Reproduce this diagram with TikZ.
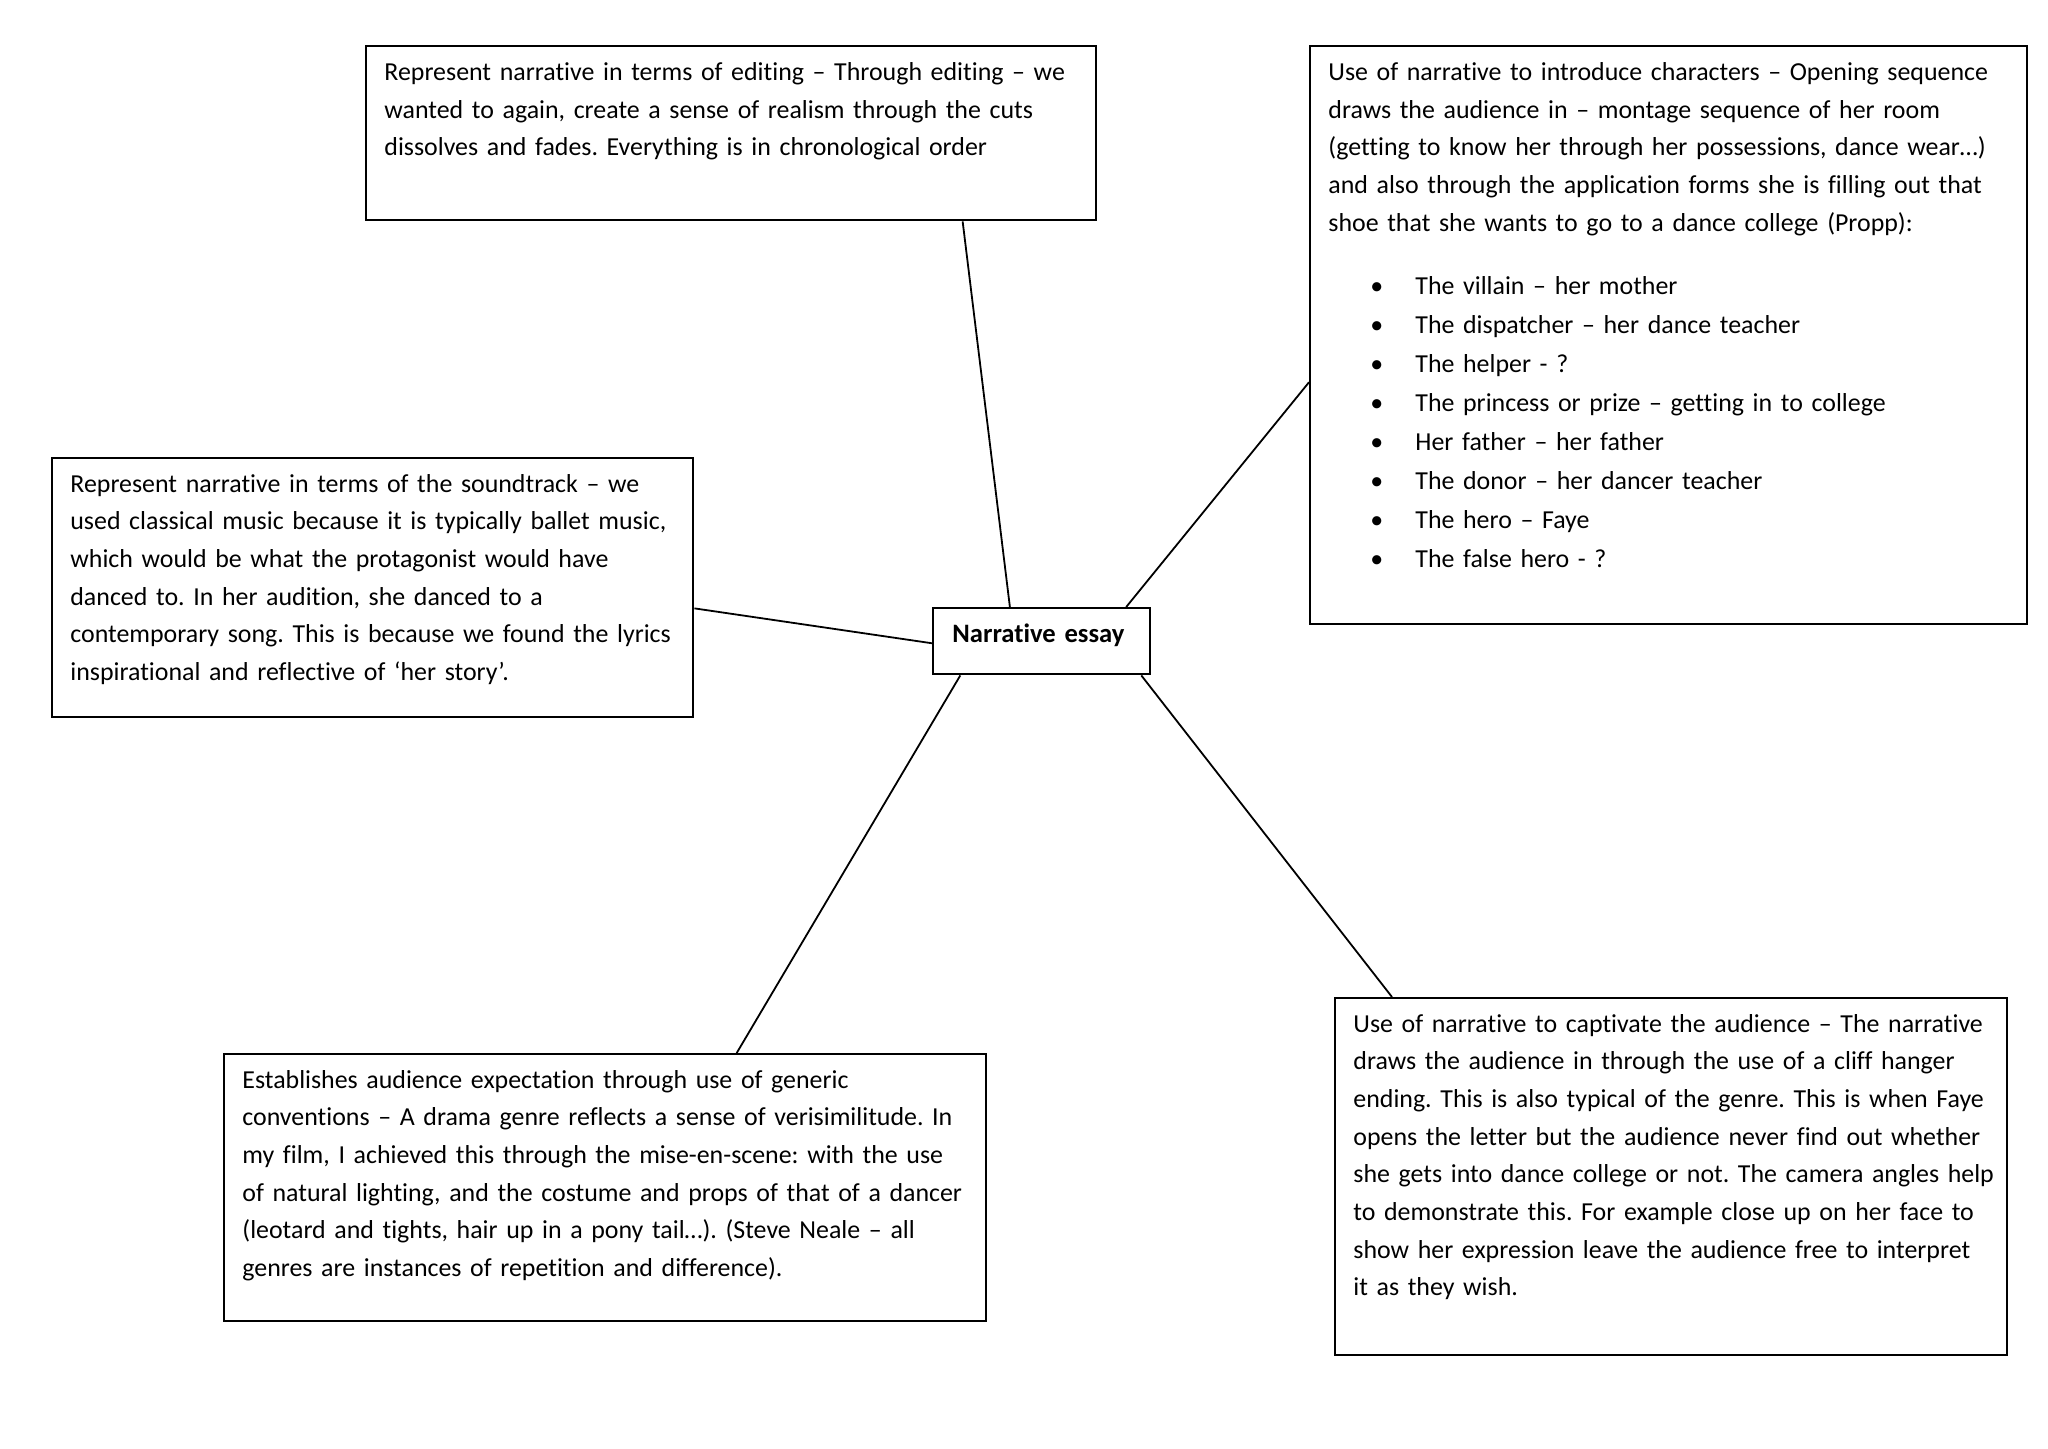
\documentclass[tikz,border=0pt]{standalone}
\usepackage{fontspec}
\setmainfont{Carlito}[Ligatures=NoCommon]
\usetikzlibrary{calc}
\frenchspacing
\newcommand{\bul}{\makebox[43.5pt][l]{\hspace{21pt}\textbullet}}
\begin{document}
\begin{tikzpicture}[x=0.5pt,y=-0.5pt,
  box/.style={draw, line width=1.2pt, inner sep=0pt, anchor=north west},
  txt/.style={anchor=base west, inner sep=0pt, align=left, text width=#1,
    font=\fontsize{12.95}{18.85}\selectfont\frenchspacing},
  link/.style={line width=0.9pt}]
\useasboundingbox[fill=white] (0,0) rectangle (2048,1448);

% boxes
\node[box, minimum width=365pt, minimum height=87pt] (edit) at (365,45) {};
\node[box, minimum width=358.5pt, minimum height=289pt] (chars) at (1309,45) {};
\node[box, minimum width=320.5pt, minimum height=129.5pt] (sound) at (51,457) {};
\node[box, minimum width=108.5pt, minimum height=33pt] (core) at (932,607) {};
\node[box, minimum width=381pt, minimum height=133.5pt] (expect) at (223,1053) {};
\node[box, minimum width=336pt, minimum height=178.5pt] (capt) at (1334,997) {};

% texts
\node[txt=450pt] (editT) at ($(edit.north west)+(19,35.5)$)
{Represent narrative in terms of editing – Through editing – we\\
wanted to again, create a sense of realism through the cuts\\
dissolves and fades. Everything is in chronological order};

\node[txt=450pt] (charsT) at ($(chars.north west)+(19,35.5)$)
{Use of narrative to introduce characters – Opening sequence\\
draws the audience in – montage sequence of her room\\
(getting to know her through her possessions, dance wear…)\\
and also through the application forms she is filling out that\\
shoe that she wants to go to a dance college (Propp):\\[12.5pt]
\bul The villain – her mother\\[0.65pt]
\bul The dispatcher – her dance teacher\\[0.65pt]
\bul The helper - ?\\[0.65pt]
\bul The princess or prize – getting in to college\\[0.65pt]
\bul Her father – her father\\[0.65pt]
\bul The donor – her dancer teacher\\[0.65pt]
\bul The hero – Faye\\[0.65pt]
\bul The false hero - ?};

\node[txt=450pt] (soundT) at ($(sound.north west)+(19,35)$)
{Represent narrative in terms of the soundtrack – we\\
used classical music because it is typically ballet music,\\
which would be what the protagonist would have\\
danced to. In her audition, she danced to a\\
contemporary song. This is because we found the lyrics\\
inspirational and reflective of ‘her story’.};

\node[txt=150pt, font=\fontsize{13.3}{18.85}\selectfont\bfseries] (coreT) at ($(core.north west)+(20,35)$)
{Narrative essay};

\node[txt=450pt] (expectT) at ($(expect.north west)+(19,35)$)
{Establishes audience expectation through use of generic\\
conventions – A drama genre reflects a sense of verisimilitude. In\\
my film, I achieved this through the mise-en-scene: with the use\\
of natural lighting, and the costume and props of that of a dancer\\
(leotard and tights, hair up in a pony tail…). (Steve Neale – all\\
genres are instances of repetition and difference).};

\node[txt=450pt] (captT) at ($(capt.north west)+(19,35)$)
{Use of narrative to captivate the audience – The narrative\\
draws the audience in through the use of a cliff hanger\\
ending. This is also typical of the genre. This is when Faye\\
opens the letter but the audience never find out whether\\
she gets into dance college or not. The camera angles help\\
to demonstrate this. For example close up on her face to\\
show her expression leave the audience free to interpret\\
it as they wish.};

% connectors
\draw[link] ($(edit.south west)!0.816!(edit.south east)$) -- ($(core.north west)!0.355!(core.north east)$);
\draw[link] ($(chars.north west)!0.581!(chars.south west)$) -- ($(core.north west)!0.885!(core.north east)$);
\draw[link] ($(sound.north east)!0.579!(sound.south east)$) -- ($(core.north west)!0.53!(core.south west)$);
\draw[link] ($(core.south west)!0.129!(core.south east)$) -- ($(expect.north west)!0.672!(expect.north east)$);
\draw[link] ($(core.south west)!0.954!(core.south east)$) -- ($(capt.north west)!0.086!(capt.north east)$);
\end{tikzpicture}
\end{document}
